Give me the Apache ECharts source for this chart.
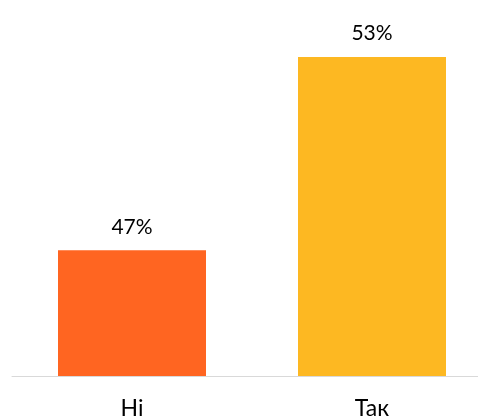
<!DOCTYPE html>
<html>
<head>
<meta charset="utf-8">
<script src="https://cdn.jsdelivr.net/npm/echarts@6/dist/echarts.min.js"></script>
<style>
  html, body { margin: 0; padding: 0; background: #ffffff; }
  #chart { width: 478px; height: 418px; }
</style>
</head>
<body>
<div id="chart"></div>
<script>
// Answers and their shares, in percent
const categories = ['Ні', 'Так'];
const shares = [47, 53];
const barColors = ['#FF6521', '#FDB822'];

const chart = echarts.init(document.getElementById('chart'), null, { renderer: 'canvas' });

chart.setOption({
  animation: false,
  backgroundColor: '#ffffff',
  textStyle: { fontFamily: 'Lato, "Open Sans", sans-serif' },
  grid: {
    left: 12, width: 480, top: 57, bottom: 42,
    containLabel: false,
    outerBoundsMode: 'none'
  },
  xAxis: {
    type: 'category',
    data: categories,
    axisLine: { show: true, lineStyle: { color: '#D9D9D9', width: 1 } },
    axisTick: { show: false },
    axisLabel: {
      color: '#000000',
      fontSize: 23,
      margin: 21,
      fontFamily: 'Lato, "Open Sans", sans-serif'
    }
  },
  yAxis: {
    type: 'value',
    min: 43.1,
    max: 53,
    show: false,
    splitLine: { show: false }
  },
  series: [{
    type: 'bar',
    barWidth: 148,
    data: shares.map((v, i) => ({ value: v, itemStyle: { color: barColors[i] } })),
    label: {
      show: true,
      position: 'top',
      distance: 13,
      color: '#000000',
      fontSize: 21,
      fontFamily: 'Lato, "Open Sans", sans-serif',
      formatter: p => p.value + '%'
    }
  }]
});
</script>
</body>
</html>
